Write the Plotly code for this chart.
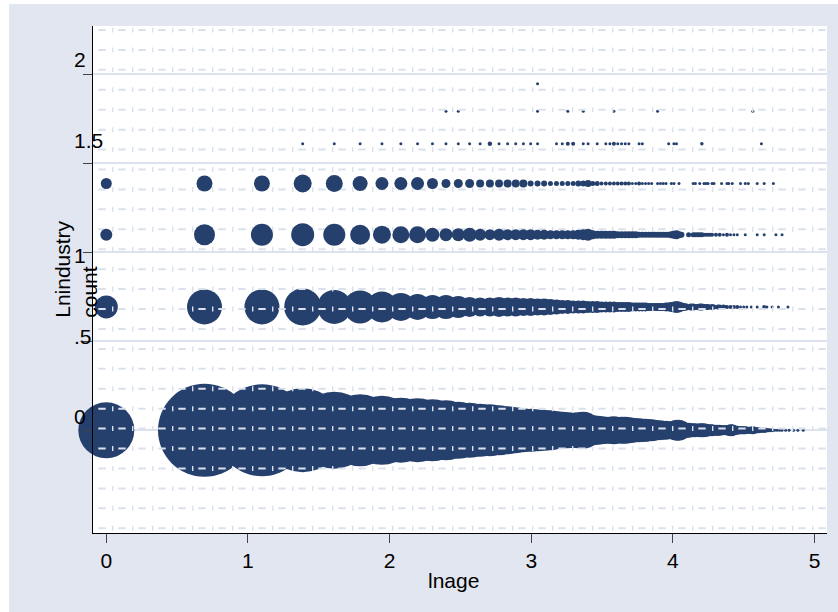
import numpy as np
import plotly.graph_objects as go

# ---------------- data ----------------
# industry count levels (y = ln(count)); age in years (x = ln(age));
# weights = number of observations (bubble area)
count_levels = [1, 2, 3, 4, 5, 6, 7]

ages_c1 = list(range(1, 109)) + [110, 112, 114, 116, 118, 121, 124, 128, 132, 137]
w_c1 = [3136, 8649, 8464, 7056, 5929, 5184, 4761, 4225, 4096, 3844,
        3600, 3249, 3025, 2809, 2704, 2500, 2304, 2116, 1936, 1849,
        1764, 1681, 1600, 1444, 1369, 1296, 1225, 1296, 1369, 1024,
        900, 841, 784, 729, 729, 784, 676, 729, 729, 676,
        625, 576, 576, 529, 529, 484, 484, 441, 400, 400,
        361, 361, 324, 324, 361, 441, 441, 361, 256, 225,
        225, 196, 196, 196, 169, 196, 196, 196, 169, 144,
        144, 144, 121, 121, 121, 121, 100, 100, 100, 100,
        121, 144, 144, 100, 81, 81, 64, 64, 64, 64,
        64, 49, 49, 49, 49, 64, 49, 36, 36, 36,
        25, 25, 25, 25, 25, 16, 16, 16,
        16, 9, 9, 9, 9, 9, 4, 4, 4, 4]

ages_c2 = list(range(1, 61)) + [62, 63, 64, 65, 66, 67, 68, 69, 70, 72, 73, 75, 76, 78,
                                 79, 80, 82, 84, 86, 88, 90, 92, 95, 99, 104, 106, 110, 115, 123]
w_c2 = [529, 1225, 1225, 1369, 1156, 1089, 961, 784, 676, 576,
        576, 484, 400, 361, 361, 400, 361, 361, 324, 324,
        289, 289, 256, 225, 196, 196, 169, 169, 169, 144,
        144, 144, 121, 121, 121, 121, 100, 100, 100, 100,
        81, 81, 81, 81, 81, 64, 64, 64, 64, 64,
        64, 81, 81, 100, 121, 144, 121, 81, 64, 49,
        49, 49, 36, 36, 49, 49, 36, 36, 36, 36, 25, 25, 25, 25,
        16, 16, 16, 16, 16, 9, 9, 9, 9, 9, 16, 9, 4, 4, 9]

ages_c3 = list(range(1, 59)) + [61, 63, 64, 65, 66, 67, 68, 69, 70, 71, 72, 74, 76, 78,
                                 80, 82, 84, 86, 91, 99, 104, 113, 118]
w_c3 = [144, 441, 484, 529, 484, 400, 324, 289, 289, 196,
        169, 169, 196, 144, 121, 144, 121, 121, 121, 121,
        100, 100, 81, 81, 81, 81, 81, 100, 121, 144,
        81, 64, 64, 64, 64, 64, 49, 49, 49, 49,
        49, 49, 36, 36, 36, 36, 36, 36, 36, 36,
        36, 36, 36, 49, 64, 81, 49, 36,
        25, 25, 25, 25, 25, 25, 16, 16, 16, 16, 16, 16, 16, 9,
        16, 9, 9, 9, 9, 9, 9, 9, 9]

ages_c4 = list(range(1, 48)) + [49, 50, 51, 52, 54, 55, 57, 63, 64, 66, 68, 69, 70, 72,
                                 73, 77, 80, 81, 83, 88, 91, 93, 99, 104, 111]
w_c4 = [121, 256, 256, 324, 289, 225, 169, 169, 169, 121,
        81, 81, 81, 64, 64, 64, 64, 64, 64, 36,
        36, 36, 25, 25, 25, 25, 25, 36, 36, 49,
        25, 25, 16, 16, 16, 16, 16, 16, 16, 16,
        9, 9, 16, 9, 9, 9, 9,
        9, 9, 9, 9, 9, 9, 9, 9, 9, 9, 9, 9, 9, 9,
        9, 9, 9, 9, 9, 9, 9, 9, 9, 9, 9]

ages_c5 = [4, 5, 6, 7, 8, 9, 10, 11, 12, 13, 14, 15, 16, 17, 18, 19, 20, 21,
           24, 25, 26, 27, 29, 30, 32, 34, 35, 36, 37, 38, 39, 40, 43, 44,
           53, 55, 56, 67, 102]
w_c5 = [8, 8, 8, 8, 8, 8, 8, 8, 8, 8, 8, 20, 8, 8, 8, 8, 8, 8,
        8, 8, 16, 16, 8, 8, 8, 8, 8, 16, 8, 8, 8, 8, 8, 8,
        8, 8, 8, 12, 8]

ages_c6 = [11, 12, 21, 26, 29, 36, 49, 96]
w_c6 = [8, 3, 3, 8, 3, 8, 6, 8]

ages_c7 = [21]
w_c7 = [3]

ages_all = [ages_c1, ages_c2, ages_c3, ages_c4, ages_c5, ages_c6, ages_c7]
w_all = [w_c1, w_c2, w_c3, w_c4, w_c5, w_c6, w_c7]

x_ticks = [0, 1, 2, 3, 4, 5]
y_tick_vals = [0, 0.5, 1, 1.5, 2]
y_tick_text = ["0", ".5", "1", "1.5", "2"]

# ---------------- style ----------------
NAVY = "#26406e"
FONT = "Liberation Sans, Arial, sans-serif"
W, H = 838, 612
ML, MR, MT, MB = 93, 11, 26, 79
PW, PH = W - ML - MR, H - MT - MB

def px2paper_x(px):
    return (px - ML) / PW

def px2paper_y(py):
    return (H - MB - py) / PH

fig = go.Figure()
for c, ages, w in zip(count_levels, ages_all, w_all):
    fig.add_trace(go.Scatter(
        x=np.log(np.array(ages, dtype=float)),
        y=np.full(len(ages), np.log(c)),
        mode="markers",
        marker=dict(size=w, sizemode="area", sizeref=2.0, sizemin=1.5,
                    color=NAVY, opacity=1, line=dict(width=0)),
        cliponaxis=False,
        showlegend=False,
        hoverinfo="x+y",
    ))

shapes = []
# outer white border strips
shapes.append(dict(type="rect", xref="paper", yref="paper",
                   x0=-0.3, x1=px2paper_x(9), y0=-0.3, y1=1.3,
                   fillcolor="white", line=dict(width=0), layer="below"))
shapes.append(dict(type="rect", xref="paper", yref="paper",
                   x0=-0.3, x1=1.2, y0=px2paper_y(4), y1=1.3,
                   fillcolor="white", line=dict(width=0), layer="below"))

# background texture of the plot region
PAT = "#dbe1ec"
for k in range(26):
    py = 30 + 19.93 * k
    yp = px2paper_y(py)
    lay = "below" if k in (8, 10) else "above"
    shapes.append(dict(type="line", xref="x domain", yref="y domain",
                       x0=px2paper_x(98.3), x1=1, y0=yp, y1=yp,
                       line=dict(color=PAT, width=2, dash="7.4px,12.6px"), layer=lay))
    shapes.append(dict(type="line", xref="x domain", yref="y domain",
                       x0=px2paper_x(112.0), x1=1, y0=yp, y1=yp,
                       line=dict(color=PAT, width=5, dash="1.4px,18.6px"), layer=lay))

annotations = []
y_shifts = [14, 5, -3, 23, 15]
for v, t, s in zip(y_tick_vals, y_tick_text, y_shifts):
    annotations.append(dict(text=t, xref="paper", yref="y", x=px2paper_x(71.5), y=v,
                            xanchor="left", yanchor="middle", yshift=s, showarrow=False,
                            font=dict(family=FONT, size=21, color="black")))
annotations.append(dict(text="lnage", xref="paper", yref="paper",
                        x=px2paper_x(453), y=px2paper_y(580),
                        xanchor="center", yanchor="middle", showarrow=False,
                        font=dict(family=FONT, size=21, color="black")))
annotations.append(dict(text="Lnindustry<br>count", xref="paper", yref="paper",
                        x=px2paper_x(75.3), y=px2paper_y(320), textangle=-90, align="left",
                        xanchor="center", yanchor="bottom", showarrow=False,
                        font=dict(family=FONT, size=21, color="black")))

fig.update_layout(
    width=W, height=H,
    margin=dict(l=ML, r=MR, t=MT, b=MB),
    paper_bgcolor="#e1e6f0",
    plot_bgcolor="white",
    shapes=shapes,
    annotations=annotations,
    font=dict(family=FONT, size=21, color="black"),
    xaxis=dict(range=[-0.094, 5.088], tickvals=x_ticks, ticks="outside", ticklen=9,
               tickwidth=1, tickcolor="#444", showline=True, linecolor="black",
               linewidth=1.3, showgrid=False, zeroline=False,
               tickfont=dict(family=FONT, size=21, color="black")),
    yaxis=dict(range=[-0.577, 2.271], tickvals=y_tick_vals, ticks="outside", ticklen=9,
               tickwidth=1, tickcolor="#444", showticklabels=False, showline=True,
               linecolor="black", linewidth=1.3, showgrid=True, gridcolor="#dde3ee",
               gridwidth=1.5, zeroline=False),
)

fig.write_html("out.html")
